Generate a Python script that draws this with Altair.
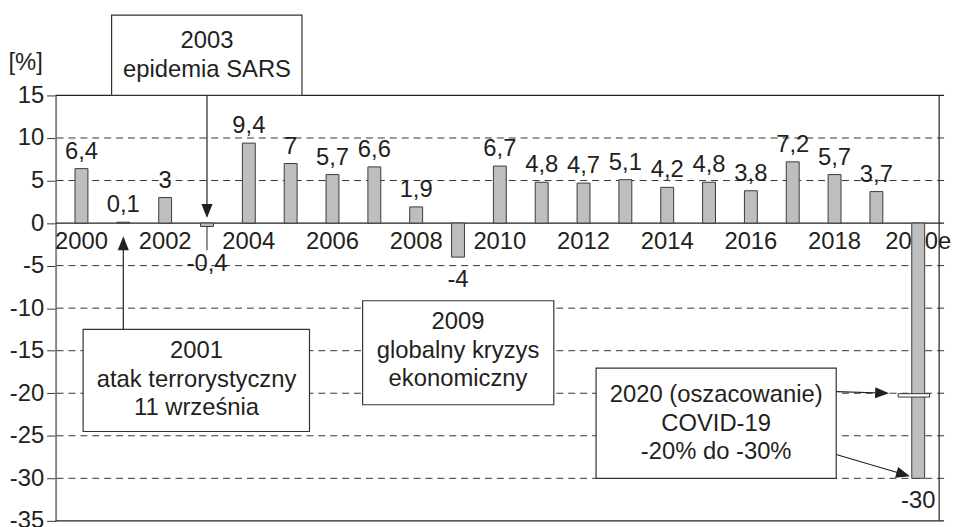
import math
import altair as alt
import pandas as pd

# ---------------- data ----------------
years = list(range(2000, 2021))
growth = [6.4, 0.1, 3, -0.4, 9.4, 7, 5.7, 6.6, 1.9, -4, 6.7, 4.8, 4.7, 5.1,
          4.2, 4.8, 3.8, 7.2, 5.7, 3.7, -30]
tick_years = [2000, 2002, 2004, 2006, 2008, 2010, 2012, 2014, 2016, 2018, 2020]
tick_labels = ["2000", "2002", "2004", "2006", "2008", "2010", "2012",
               "2014", "2016", "2018", "2020e"]
y_ticks = [15, 10, 5, 0, -5, -10, -15, -20, -25, -30, -35]
grid_dashed = [10, 5, -5, -10, -15, -20, -25, -30]
frame_h = [15, 0, -35]
frame_v = [2020.5]

# annotation boxes (in data units: year / percent)
box_lines = [["2003", "epidemia SARS"],
             ["2001", "atak terrorystyczny", "11 września"],
             ["2009", "globalny kryzys", "ekonomiczny"],
             ["2020 (oszacowanie)", "COVID-19", "-20% do -30%"]]
box_x1 = [2000.72, 2000.04, 2006.72, 2012.30]
box_x2 = [2005.27, 2005.45, 2011.29, 2018.04]
box_y1 = [24.44, -12.5, -9.13, -17.05]
box_y2 = [15.0, -24.5, -21.35, -30.0]
box_tx = [2003.0, 2002.75, 2009.0, 2015.17]
box_ty = [19.7, -18.4, -15.0, -23.58]   # vertical centre of the text block

# arrows: start -> tip
arr_x0 = [2003.0, 2001.0, 2018.04, 2018.04]
arr_y0 = [15.0, -12.5, -19.8, -27.2]
arr_x1 = [2003.0, 2001.0, 2019.30, 2019.80]
arr_y1 = [0.6, -1.55, -20.0, -29.75]

# estimate marker at -20 for 2020
mark_x1, mark_x2 = [2019.52], [2020.27]
mark_y1, mark_y2 = [-20.05], [-20.45]

# leader under the -0,4 bar
lead_x, lead_y1, lead_y2 = [2003], [-0.4], [-3.2]

# ---------------- layout ----------------
W, H = 896, 429
XDOM = [1999.5, 2020.5]
YDOM = [-35, 15]
FONT = "Liberation Sans"
INK = "#231f20"
FS = 24
LINE_H = 28.5
ppx = W / (XDOM[1] - XDOM[0])
ppy = H / (YDOM[1] - YDOM[0])

xs = alt.Scale(domain=XDOM, nice=False, zero=False)
ys = alt.Scale(domain=YDOM, nice=False, zero=False)


def fmt(v):
    return ("%g" % v).replace(".", ",")


bars = pd.DataFrame({"year": years, "value": growth,
                     "label": [fmt(v) for v in growth]})
ticks_df = pd.DataFrame({"year": tick_years, "label": tick_labels, "zero": 0})
boxes = pd.DataFrame({"x1": box_x1, "x2": box_x2, "y1": box_y1, "y2": box_y2})

trows = []
for lines, tx, ty in zip(box_lines, box_tx, box_ty):
    n = len(lines)
    for i, s in enumerate(lines):
        off_px = (i - (n - 1) / 2) * LINE_H
        trows.append({"x": tx, "y": ty - off_px / ppy, "text": s})
box_text_df = pd.DataFrame(trows)

# arrow geometry: shaft ends at head centre, head rotated along the shaft
head_len = 14.0
rows = []
for x0, y0, x1, y1 in zip(arr_x0, arr_y0, arr_x1, arr_y1):
    dxp = (x1 - x0) * ppx
    dyp = -(y1 - y0) * ppy
    L = math.hypot(dxp, dyp)
    ux, uy = dxp / L, dyp / L
    ang = (math.degrees(math.atan2(ux, -uy)) + 360) % 360
    hx = x1 - (head_len / 2) * ux / ppx
    hy = y1 + (head_len / 2) * uy / ppy
    rows.append({"x0": x0, "y0": y0, "hx": hx, "hy": hy, "angle": ang})
arrows = pd.DataFrame(rows)

NOAX = None

# ---------------- layers ----------------
yaxis = alt.Axis(values=y_ticks, grid=False, title="[%]",
                 labelExpr="'' + datum.value",
                 titleAngle=0, titleAlign="left", titleBaseline="alphabetic",
                 titleX=-48, titleY=-26, titleFont=FONT,
                 titleFontSize=FS, titleFontWeight="normal", titleColor=INK,
                 labelFont=FONT, labelFontSize=FS, labelColor=INK,
                 labelPadding=3, tickSize=9, tickColor="#333", tickWidth=1,
                 domainColor="#888", domainWidth=2, orient="left")

grid = alt.Chart(pd.DataFrame({"v": grid_dashed})).mark_rule(
    color="#333", strokeWidth=1, strokeDash=[7, 5]
).encode(y=alt.Y("v:Q", scale=ys, axis=yaxis))

frame = alt.Chart(pd.DataFrame({"v": frame_h})).mark_rule(
    color="#222", strokeWidth=1.2
).encode(y=alt.Y("v:Q", scale=ys, axis=NOAX))

frame_r = alt.Chart(pd.DataFrame({"v": frame_v})).mark_rule(
    color="#222", strokeWidth=1.2
).encode(x=alt.X("v:Q", scale=xs, axis=NOAX))

year_text = alt.Chart(ticks_df).mark_text(
    font=FONT, fontSize=FS, color=INK, baseline="middle", align="center", dy=19
).encode(x=alt.X("year:Q", scale=xs, axis=NOAX),
         y=alt.Y("zero:Q", scale=ys, axis=NOAX),
         text="label:N")

bar = alt.Chart(bars).mark_bar(
    size=13, fill="#bdbec0", stroke="#3a3a3a", strokeWidth=1
).encode(
    x=alt.X("year:Q", scale=xs, axis=NOAX),
    y=alt.Y("value:Q", scale=ys, axis=NOAX),
    y2=alt.datum(0),
)

pos_lab = alt.Chart(bars).transform_filter("datum.value >= 0").mark_text(
    font=FONT, fontSize=FS, color=INK, baseline="alphabetic", dy=-10
).encode(x=alt.X("year:Q", scale=xs, axis=NOAX),
         y=alt.Y("value:Q", scale=ys, axis=NOAX), text="label:N")

neg_lab = alt.Chart(bars).transform_filter("datum.value <= -1").mark_text(
    font=FONT, fontSize=FS, color=INK, baseline="alphabetic", dy=30
).encode(x=alt.X("year:Q", scale=xs, axis=NOAX),
         y=alt.Y("value:Q", scale=ys, axis=NOAX), text="label:N")

small_lab = alt.Chart(bars).transform_filter(
    "datum.value < 0 && datum.value > -1").mark_text(
    font=FONT, fontSize=FS, color=INK, baseline="alphabetic", dy=45
).encode(x=alt.X("year:Q", scale=xs, axis=NOAX),
         y=alt.Y("value:Q", scale=ys, axis=NOAX), text="label:N")

leader = alt.Chart(pd.DataFrame({"x": lead_x, "y1": lead_y1, "y2": lead_y2})).mark_rule(
    color=INK, strokeWidth=1
).encode(x=alt.X("x:Q", scale=xs, axis=NOAX),
         y=alt.Y("y1:Q", scale=ys, axis=NOAX), y2="y2:Q")

box = alt.Chart(boxes).mark_rect(
    fill="white", stroke="#333", strokeWidth=1.2
).encode(x=alt.X("x1:Q", scale=xs, axis=NOAX), x2="x2:Q",
         y=alt.Y("y1:Q", scale=ys, axis=NOAX), y2="y2:Q")

box_txt = alt.Chart(box_text_df).mark_text(
    font=FONT, fontSize=FS, color=INK, baseline="middle", align="center"
).encode(x=alt.X("x:Q", scale=xs, axis=NOAX),
         y=alt.Y("y:Q", scale=ys, axis=NOAX), text="text:N")

marker = alt.Chart(pd.DataFrame({"x1": mark_x1, "x2": mark_x2,
                                 "y1": mark_y1, "y2": mark_y2})).mark_rect(
    fill="white", stroke="#333", strokeWidth=1
).encode(x=alt.X("x1:Q", scale=xs, axis=NOAX), x2="x2:Q",
         y=alt.Y("y1:Q", scale=ys, axis=NOAX), y2="y2:Q")

shaft = alt.Chart(arrows).mark_rule(color=INK, strokeWidth=1.2).encode(
    x=alt.X("x0:Q", scale=xs, axis=NOAX), x2="hx:Q",
    y=alt.Y("y0:Q", scale=ys, axis=NOAX), y2="hy:Q")

head = alt.Chart(arrows).mark_point(
    shape="M0,-1L-0.8,1L0.8,1Z", filled=True, color=INK, opacity=1,
    size=head_len * head_len, strokeWidth=0
).encode(x=alt.X("hx:Q", scale=xs, axis=NOAX),
         y=alt.Y("hy:Q", scale=ys, axis=NOAX),
         angle=alt.Angle("angle:Q", scale=None))

chart = alt.layer(
    grid, frame, frame_r, year_text, bar, pos_lab, neg_lab, small_lab, leader,
    box, box_txt, marker, shaft, head
).resolve_axis(
    y="independent", x="independent"
).properties(
    width=W, height=H,
    background="white",
    autosize=alt.AutoSizeParams(type="none"),
    padding={"left": 48, "top": 86, "right": 12, "bottom": 4},
).configure_view(
    strokeWidth=0
)

chart.save("out.html", embed_options={"renderer": "svg", "actions": False})
